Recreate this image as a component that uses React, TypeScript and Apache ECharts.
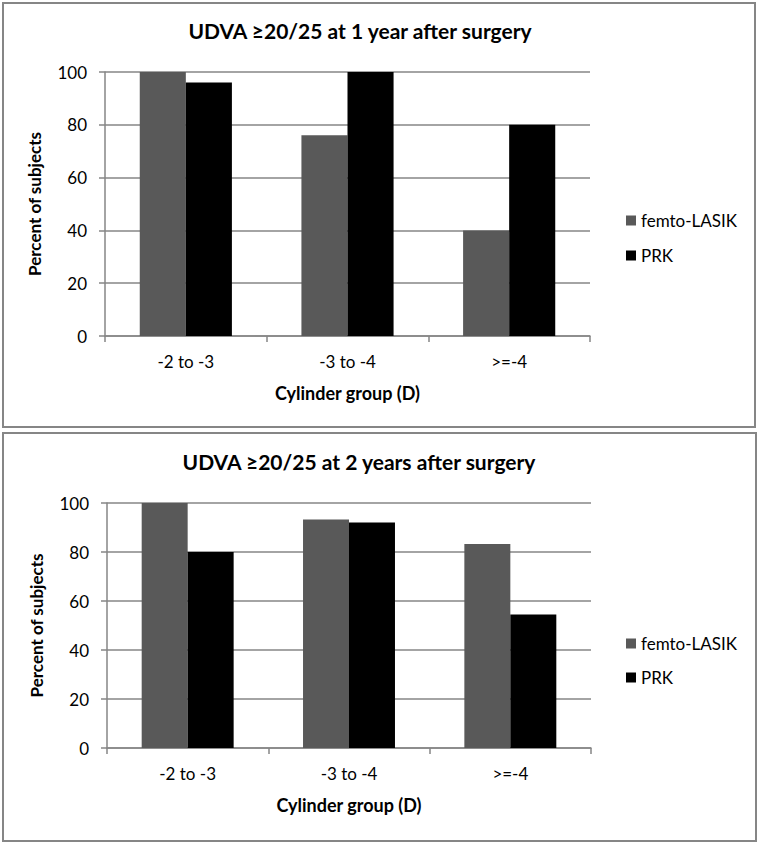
import React, { useEffect, useRef } from "react";
import * as echarts from "echarts";

const categories = ["-2 to -3", "-3 to -4", ">=-4"];
const seriesNames = ["femto-LASIK", "PRK"];
const year1Femto = [100, 76, 40];
const year1PRK = [96, 100, 80];
const year2Femto = [100, 93.3, 83.3];
const year2PRK = [80, 92, 54.5];
const titles = ["UDVA ≥20/25 at 1 year after surgery", "UDVA ≥20/25 at 2 years after surgery"];
const colors = ["#595959", "#000000"];

const FONT = "Lato, 'Open Sans', sans-serif";
const GRAY = "#868686";

export default function App() {
  const ref = useRef<HTMLDivElement>(null);
  useEffect(() => {
    if (!ref.current) return;
    const chart = echarts.init(ref.current, undefined, { renderer: "svg" });
    const grids = [
      { left: 105, right: 170, top: 72, height: 264 },
      { left: 107, right: 169, top: 503, height: 245 },
    ];
    const xAxes = grids.map((_, i) => ({
      type: "category",
      gridIndex: i,
      data: categories,
      name: "Cylinder group (D)",
      nameLocation: "middle",
      nameGap: 48,
      nameTextStyle: { fontFamily: FONT, fontSize: 18, fontWeight: "bold", color: "#000" },
      axisLine: { lineStyle: { color: GRAY, width: 1.5 } },
      axisTick: { show: true, length: 6, lineStyle: { color: GRAY, width: 1.5 } },
      axisLabel: { fontFamily: FONT, fontSize: 17, color: "#000", margin: 17 },
    }));
    const yAxes = grids.map((_, i) => ({
      type: "value",
      gridIndex: i,
      min: 0,
      max: 100,
      interval: 20,
      name: "Percent of subjects",
      nameLocation: "middle",
      nameGap: 62,
      nameTextStyle: { fontFamily: FONT, fontSize: 17, fontWeight: "bold", color: "#000" },
      axisLine: { show: true, lineStyle: { color: GRAY, width: 1.5 } },
      axisTick: { show: true, length: 6, lineStyle: { color: GRAY, width: 1.5 } },
      splitLine: { lineStyle: { color: GRAY, width: 1.5 } },
      axisLabel: { fontFamily: FONT, fontSize: 17, color: "#000", margin: 18 },
    }));
    const data = [
      [year1Femto, year1PRK],
      [year2Femto, year2PRK],
    ];
    const series: any[] = [];
    data.forEach((pair, gi) => {
      pair.forEach((vals, si) => {
        series.push({
          type: "bar",
          name: seriesNames[si],
          xAxisIndex: gi,
          yAxisIndex: gi,
          data: vals,
          barGap: "0%",
          barCategoryGap: "43%",
          itemStyle: { color: colors[si] },
        });
      });
    });
    chart.setOption({
      animation: false,
      backgroundColor: "#fff",
      title: [
        {
          text: titles[0],
          left: 355,
          top: 15,
          textAlign: "center",
          textStyle: { fontFamily: FONT, fontSize: 21, fontWeight: "bold", color: "#000" },
        },
        {
          text: titles[1],
          left: 354,
          top: 446,
          textAlign: "center",
          textStyle: { fontFamily: FONT, fontSize: 21, fontWeight: "bold", color: "#000" },
        },
      ],
      legend: [
        {
          orient: "vertical",
          left: 621,
          top: 207,
          itemWidth: 10,
          itemHeight: 10,
          itemGap: 18,
          icon: "rect",
          data: seriesNames,
          textStyle: { fontFamily: FONT, fontSize: 17, color: "#000" },
        },
        {
          orient: "vertical",
          left: 621,
          top: 630,
          itemWidth: 10,
          itemHeight: 10,
          itemGap: 17,
          icon: "rect",
          data: seriesNames,
          textStyle: { fontFamily: FONT, fontSize: 17, color: "#000" },
        },
      ],
      grid: grids,
      xAxis: xAxes,
      yAxis: yAxes,
      series,
      graphic: [
        {
          type: "rect",
          shape: { x: 3, y: 3, width: 752, height: 424 },
          style: { fill: "none", stroke: GRAY, lineWidth: 2 },
          silent: true,
        },
        {
          type: "rect",
          shape: { x: 3, y: 433, width: 753, height: 408 },
          style: { fill: "none", stroke: GRAY, lineWidth: 2 },
          silent: true,
        },
      ],
    });
    return () => chart.dispose();
  }, []);
  return (
    <div
      ref={ref}
      style={{ position: "absolute", left: 0, top: 0, width: 760, height: 844 }}
    />
  );
}
